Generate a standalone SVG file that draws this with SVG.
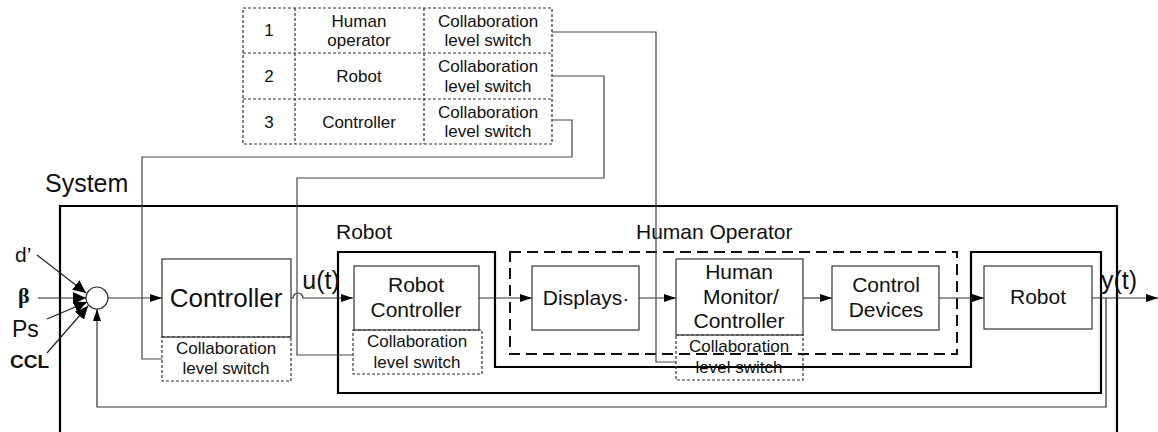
<svg xmlns="http://www.w3.org/2000/svg" width="1158" height="432" viewBox="0 0 1158 432">
<defs>
<marker id="arr" markerWidth="12" markerHeight="8" refX="12" refY="4" orient="auto" markerUnits="userSpaceOnUse">
<path d="M0,0 L12,4 L0,8 Z" fill="#000"/>
</marker>
<marker id="arrin" markerWidth="13" markerHeight="12" refX="13" refY="6" orient="auto" markerUnits="userSpaceOnUse">
<path d="M0,0 L13,6 L0,12 Z" fill="#000"/>
</marker>
<style>
text{font-family:"Liberation Sans",Arial,sans-serif;fill:#111;text-anchor:middle}
.box{fill:#fff;stroke:#333;stroke-width:1.2}
.dbox{fill:none;stroke:#333;stroke-width:1.2;stroke-dasharray:3,2}
.thick{fill:none;stroke:#000;stroke-width:2.2}
.con{fill:none;stroke:#444;stroke-width:1.2}
.arrow{fill:none;stroke:#333;stroke-width:1.2;marker-end:url(#arr)}
.arrin{fill:none;stroke:#222;stroke-width:1.2;marker-end:url(#arrin)}
.t17{font-size:17px}
.t21{font-size:21px}
.lbl{text-anchor:start}
</style>
</defs>
<rect width="1158" height="432" fill="#fff"/>

<!-- System frame -->
<g id="system">
<path class="thick" d="M60,432 L60,206 L1117,206 L1117,432"/>
<text class="lbl" x="45" y="192" style="font-size:25px">System</text>
</g>

<!-- Robot frame (outer) -->
<g id="robot-frame">
<path class="thick" d="M338,252 L495,252 L495,367 L971,367 L971,252 L1101,252 L1101,393 L338,393 Z"/>
<text class="lbl t21" x="336" y="239">Robot</text>
</g>

<!-- Human operator dashed frame -->
<g id="human-operator-frame">
<rect x="510" y="252" width="447" height="102" fill="none" stroke="#111" stroke-width="2" stroke-dasharray="11,6"/>
<text class="lbl t21" x="636" y="239">Human Operator</text>
</g>

<!-- Table -->
<g id="table">
<rect class="dbox" x="243" y="8" width="309" height="136"/>
<path class="dbox" d="M243,53 L552,53 M243,99 L552,99 M295,8 L295,144 M424,8 L424,144"/>
<text class="t17" x="269" y="36">1</text>
<text class="t17" x="359" y="27">Human</text>
<text class="t17" x="359" y="46">operator</text>
<text class="t17" x="488" y="27">Collaboration</text>
<text class="t17" x="488" y="46">level switch</text>
<text class="t17" x="269" y="82">2</text>
<text class="t17" x="359" y="82">Robot</text>
<text class="t17" x="488" y="72">Collaboration</text>
<text class="t17" x="488" y="92">level switch</text>
<text class="t17" x="269" y="128">3</text>
<text class="t17" x="359" y="128">Controller</text>
<text class="t17" x="488" y="118">Collaboration</text>
<text class="t17" x="488" y="137">level switch</text>
</g>

<!-- Inputs labels -->
<g id="inputs">
<text class="lbl" x="15" y="262" style="font-size:21px">d’</text>
<text class="lbl" x="18" y="303" style="font-family:'Liberation Serif',serif;font-weight:bold;font-size:22px">β</text>
<text class="lbl" x="12" y="337" style="font-size:23px">Ps</text>
<text class="lbl" x="10" y="368" style="font-size:19px;font-weight:bold">CCL</text>
</g>

<!-- Summing junction -->
<g id="sum">
<circle cx="97" cy="298" r="11" fill="#fff" stroke="#333" stroke-width="1.2"/>
</g>

<!-- Controller -->
<g id="controller">
<rect class="box" x="162" y="259" width="129" height="78"/>
<text x="226" y="307" style="font-size:26px">Controller</text>
</g>
<g id="controller-switch">
<rect class="dbox" x="162" y="337" width="129" height="44"/>
<text class="t17" x="226" y="354">Collaboration</text>
<text class="t17" x="226" y="374">level switch</text>
</g>

<!-- Robot Controller -->
<g id="robot-controller">
<rect class="box" x="354" y="266" width="125" height="64"/>
<text class="t21" x="416" y="292">Robot</text>
<text class="t21" x="416" y="317">Controller</text>
</g>
<g id="robot-controller-switch">
<rect class="dbox" x="353" y="330" width="129" height="44"/>
<text class="t17" x="417" y="347">Collaboration</text>
<text class="t17" x="417" y="368">level switch</text>
</g>

<!-- Displays -->
<g id="displays">
<rect class="box" x="532" y="266" width="107" height="64"/>
<text class="t21" x="586" y="305">Displays·</text>
</g>

<!-- Human Monitor/Controller -->
<g id="human-monitor">
<rect class="box" x="676" y="259" width="127" height="76"/>
<text class="t21" x="739" y="279">Human</text>
<text class="t21" x="741" y="304">Monitor/</text>
<text class="t21" x="739" y="328">Controller</text>
</g>
<g id="human-monitor-switch">
<rect class="dbox" x="676" y="335" width="127" height="45"/>
<text class="t17" x="739" y="352">Collaboration</text>
<text class="t17" x="739" y="373">level switch</text>
</g>

<!-- Control Devices -->
<g id="control-devices">
<rect class="box" x="832" y="266" width="107" height="64"/>
<text class="t21" x="886" y="292">Control</text>
<text class="t21" x="886" y="317">Devices</text>
</g>

<!-- Robot -->
<g id="robot">
<rect class="box" x="984" y="266" width="108" height="63"/>
<text class="t21" x="1038" y="304">Robot</text>
</g>

<!-- Connectors -->
<g id="connectors">
<line class="arrin" x1="37" y1="255" x2="86" y2="293"/>
<line class="arrin" x1="38" y1="298" x2="86" y2="298"/>
<line class="arrin" x1="47" y1="319" x2="87" y2="302"/>
<line class="arrin" x1="47" y1="353" x2="88" y2="306"/>
<line class="arrow" x1="108" y1="298" x2="162" y2="298"/>
<path class="arrow" d="M291,298 L293,298 A5,5 0 0 1 303,298 L353,298"/>
<line class="arrow" x1="479" y1="298" x2="532" y2="298"/>
<line class="arrow" x1="639" y1="298" x2="676" y2="298"/>
<line class="arrow" x1="803" y1="298" x2="832" y2="298"/>
<line class="arrow" x1="939" y1="298" x2="984" y2="298"/>
<line class="arrow" x1="1092" y1="298" x2="1158" y2="298"/>
<path class="arrow" d="M1106,298 L1106,407 L97,407 L97,309"/>
<path class="con" d="M552,32 L656,32 L656,362 L676,362"/>
<path class="con" d="M552,76 L604,76 L604,178 L297,178 L297,355 L353,355"/>
<path class="con" stroke="#111" d="M552,120 L572,120 L572,157 L142,157 L142,359 L162,359"/>
<text x="321" y="289" style="font-size:25px">u(t)</text>
<text x="1119" y="289" style="font-size:25px">y(t)</text>
</g>
</svg>
